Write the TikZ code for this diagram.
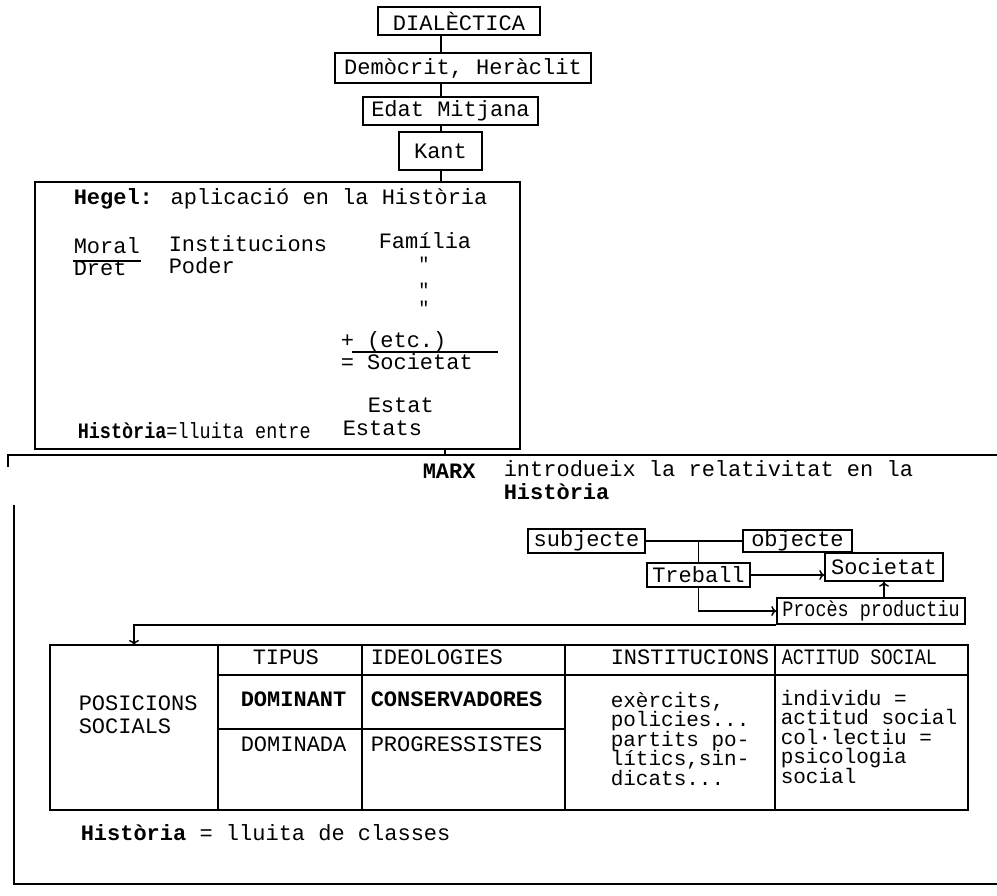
\documentclass[tikz,border=0pt]{standalone}
\usepackage{fontspec}
\setmainfont{Liberation Mono}
\usetikzlibrary{arrows.meta}
\newcommand{\tdots}{...}

\begin{document}
\begin{tikzpicture}
  [x=1pt,y=-1pt,line width=1.5pt,>={To[length=5pt,width=10pt]},
   every node/.style={font=\fontsize{22pt}{17.7pt}\selectfont,inner sep=0pt}]
  \tikzstyle{box} = [draw]
  \tikzstyle{txt} = [anchor=base west]
  \tikzstyle{small} = [font=\fontsize{18.5pt}{17.7pt}\selectfont]
  \tikzstyle{narrow} = [font=\fontsize{22pt}{17.7pt}\selectfont\addfontfeature{FakeStretch=0.84}]
  \tikzstyle{cell} = [anchor=base west,font=\fontsize{21pt}{18pt}\selectfont]
  \useasboundingbox (0,0) rectangle (997,896);

  % chain
  \coordinate (spine) at (441,0);
  \node[box,minimum width=162pt,minimum height=28pt] (dial) at (459,21) {DIALÈCTICA};
  \node[box,minimum width=256pt,minimum height=30pt] (demo) at (463,68) {Demòcrit, Heràclit};
  \node[box,minimum width=175pt,minimum height=28pt] (edat) at (450.5,111) {Edat Mitjana};
  \node[box,minimum width=83pt,minimum height=38pt] (kant) at (440.5,151) {Kant};
  \node[box,minimum width=485pt,minimum height=267pt] (hegel) at (277.5,315.5) {};
\foreach \source/\dest in {dial/demo,demo/edat,edat/kant,kant/hegel}
   \draw (\source.south -| spine) -- (\dest.north -| spine);

  % Hegel
  \node[txt] (htitle) at (73,205) {{\bfseries Hegel:} aplicació en la Història};
  \node[txt] (moral) at (73,254) {Moral};
  \draw ([yshift=-6pt]moral.south west) -- ([yshift=-6pt]moral.south east);
  \node[txt] (dret) at (73,276) {Dret};
  \node[txt] (inst) at (168,252) {Institucions};
  \node[txt] (poder) at (168,274) {Poder};
  \node[txt] (fam) at (378,249) {Família};
\foreach \y in {271,297,315}
   \node[anchor=base,small] at (424,\y) {\textquotedbl};
  \node[txt] (etc) at (340,348) {+ (etc.)};
  \draw (352,352) -- (498,352);
  \node[txt] (soch) at (340,370) {= Societat};
  \node[txt] (estat) at (367,413) {Estat};
  \node[txt] (estats) at (342,435) {Estats};
  \node[txt,narrow] (lluita) at (77,438) {{\bfseries Història}=lluita entre};

  % Marx
  \coordinate (marx) at (445,455);
  \draw (hegel.south -| marx) -- (marx);
  \draw (8,467) -- (8,455) -- (997,455);
  \draw (14,505) -- (14,884) -- (997,884);
  \node[txt] (marxt) at (422,478) {\bfseries MARX};
  \node[txt] (intro) at (503,476) {introdueix la relativitat en la};
  \node[txt] (hist) at (503,499) {\bfseries Història};

  \node[box,minimum width=117pt,minimum height=24pt] (subj) at (586.5,541) {subjecte};
  \node[box,minimum width=109pt,minimum height=22pt] (obj) at (797.5,541) {objecte};
  \node[box,minimum width=103pt,minimum height=24pt] (treb) at (698.5,575) {Treball};
  \node[box,minimum width=118pt,minimum height=28pt] (soc) at (884,567) {Societat};
  \node[box,narrow,minimum width=188pt,minimum height=26pt] (proc) at (871,611) {Procès productiu};
  \draw (subj.east) -- (obj.west);
  \draw (subj.east -| treb.north) -- (treb.north);
  \draw[->] (treb.east) -- (treb.east -| soc.west);
  \draw[->] (proc.north -| soc.south) -- (soc.south);
  \draw[->] (treb.south) |- (proc.west);
  \coordinate (postop) at (134,645);
  \draw[->] (proc.south west) -| (postop);

  % table
  \draw (50,645) rectangle (968,810);
\foreach \x in {218,362,565,775}
   \draw (\x,645) -- (\x,810);
  \draw (218,675) -- (968,675);
  \draw (218,729) -- (565,729);
  \node[txt] (pos) at (78,710) {POSICIONS};
  \node[txt] (socs) at (78,733) {SOCIALS};
  \node[txt] (tipus) at (252,664) {TIPUS};
  \node[txt] (ideo) at (370,664) {IDEOLOGIES};
  \node[txt] (insth) at (610,664) {INSTITUCIONS};
  \node[txt,narrow] (acth) at (781,664) {ACTITUD SOCIAL};
  \node[txt] (dom) at (240,706) {\bfseries DOMINANT};
  \node[txt] (cons) at (370,706) {\bfseries CONSERVADORES};
  \node[txt] (doma) at (240,751) {DOMINADA};
  \node[txt] (prog) at (370,751) {PROGRESSISTES};
\foreach \lbl [count=\i from 0] in {{exèrcits,},{policies\tdots},{partits po-},{lítics,sin-},{dicats\tdots}}
   \node[cell] at (610,{707+19.5*\i}) {\lbl};
\foreach \lbl [count=\i from 0] in {{individu =},{actitud social},{col·lectiu =},{psicologia},{social}}
   \node[cell] at (780,{705+19.5*\i}) {\lbl};

  \node[txt] (classes) at (80,840) {{\bfseries Història} = lluita de classes};

\end{tikzpicture}
\end{document}
